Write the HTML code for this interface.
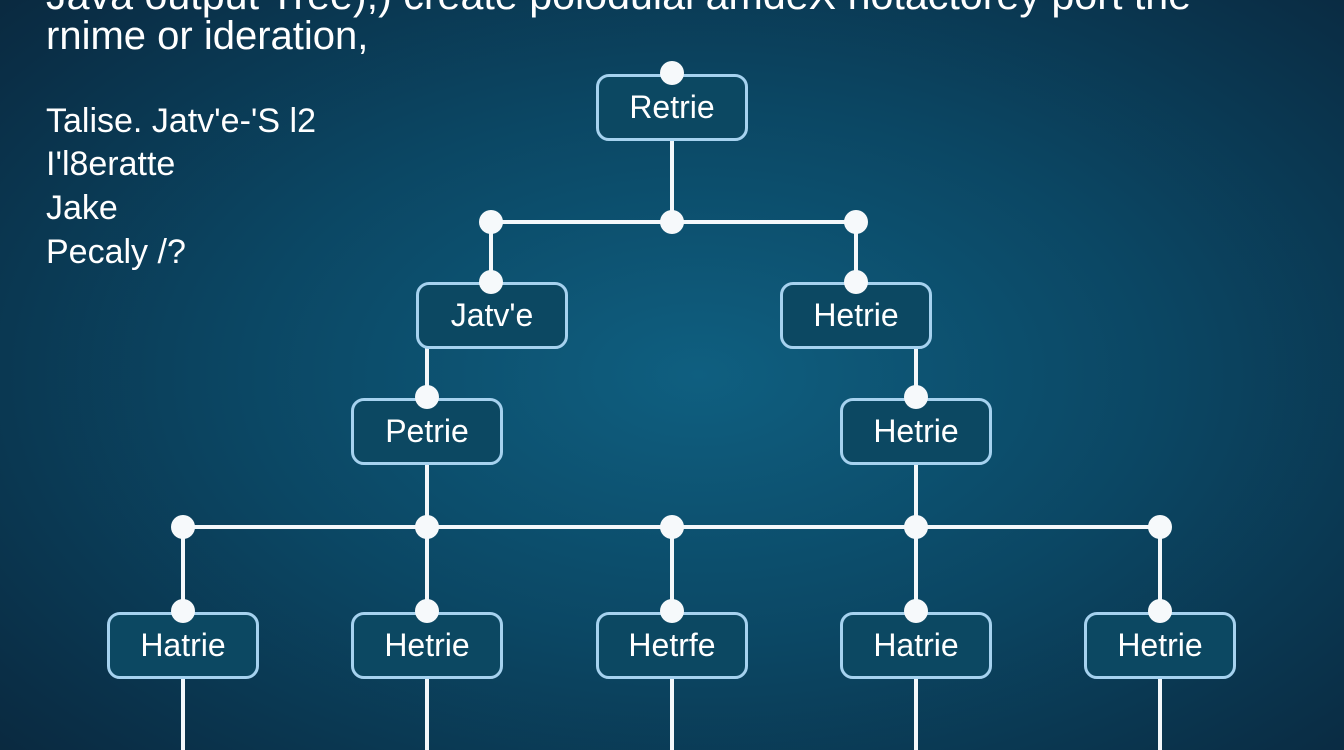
<!DOCTYPE html>
<html><head><style>
html,body{margin:0;padding:0;}
body{width:1344px;height:750px;overflow:hidden;position:relative;
background:radial-gradient(ellipse 75% 80% at 52% 50%,#0f5f80 0%,#0b4764 45%,#0a2e46 85%,#0a263b 100%);
font-family:"Liberation Sans",sans-serif;color:#fff;}
.t{position:absolute;left:46px;font-size:34px;white-space:nowrap;}
.n{position:absolute;width:146px;height:61px;border:3px solid #a6d2ef;border-radius:13px;background:#0c4862;
box-sizing:content-box;text-align:center;line-height:61px;font-size:32px;color:#fff;}
</style></head><body>
<div class="t" style="top:-26px;font-size:40px;transform:scaleX(1.03);transform-origin:0 0;">Java output Tree),) create polodulal amdeX notactorey port the</div>
<div class="t" style="top:14px;font-size:40px;">rnime or ideration,</div>
<div class="t" style="top:102px;">Talise. Jatv'e-'S l2</div>
<div class="t" style="top:145px;">I'l8eratte</div>
<div class="t" style="top:189px;">Jake</div>
<div class="t" style="top:233px;">Pecaly /?</div>
<svg width="1344" height="750" style="position:absolute;left:0;top:0">
<g stroke="#f4f8fb" stroke-width="4" fill="none">
<line x1="672" y1="74" x2="672" y2="222"/>
<line x1="491" y1="222" x2="856" y2="222"/>
<line x1="491" y1="222" x2="491" y2="282"/>
<line x1="856" y1="222" x2="856" y2="282"/>
<line x1="427" y1="348" x2="427" y2="612"/>
<line x1="916" y1="348" x2="916" y2="612"/>
<line x1="183" y1="527" x2="1160" y2="527"/>
<line x1="183" y1="527" x2="183" y2="750"/>
<line x1="427" y1="612" x2="427" y2="750"/>
<line x1="672" y1="527" x2="672" y2="750"/>
<line x1="916" y1="612" x2="916" y2="750"/>
<line x1="1160" y1="527" x2="1160" y2="750"/>
</g>
</svg>
<div class="n" style="left:596px;top:74px;">Retrie</div>
<div class="n" style="left:416px;top:282px;">Jatv'e</div>
<div class="n" style="left:780px;top:282px;">Hetrie</div>
<div class="n" style="left:351px;top:398px;">Petrie</div>
<div class="n" style="left:840px;top:398px;">Hetrie</div>
<div class="n" style="left:107px;top:612px;">Hatrie</div>
<div class="n" style="left:351px;top:612px;">Hetrie</div>
<div class="n" style="left:596px;top:612px;">Hetrfe</div>
<div class="n" style="left:840px;top:612px;">Hatrie</div>
<div class="n" style="left:1084px;top:612px;">Hetrie</div>
<svg width="1344" height="750" style="position:absolute;left:0;top:0">
<g fill="#f6f9fb">
<circle cx="672" cy="73" r="12"/>
<circle cx="491" cy="222" r="12"/><circle cx="672" cy="222" r="12"/><circle cx="856" cy="222" r="12"/>
<circle cx="491" cy="282" r="12"/><circle cx="856" cy="282" r="12"/>
<circle cx="427" cy="397" r="12"/><circle cx="916" cy="397" r="12"/>
<circle cx="183" cy="527" r="12"/><circle cx="427" cy="527" r="12"/><circle cx="672" cy="527" r="12"/><circle cx="916" cy="527" r="12"/><circle cx="1160" cy="527" r="12"/>
<circle cx="183" cy="611" r="12"/><circle cx="427" cy="611" r="12"/><circle cx="672" cy="611" r="12"/><circle cx="916" cy="611" r="12"/><circle cx="1160" cy="611" r="12"/>
</g>
</svg>
</body></html>
